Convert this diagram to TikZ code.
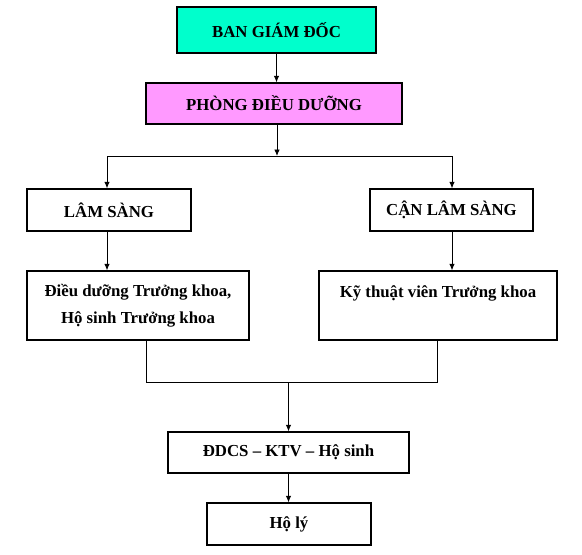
\documentclass[tikz,border=0pt]{standalone}
\usepackage{fontspec}
\setmainfont{Liberation Serif}
\usetikzlibrary{arrows.meta}
\definecolor{boardcyan}{HTML}{00FFCC}
\definecolor{nursepink}{HTML}{FF99FF}
\tikzset{
  orgbox/.style={draw=black, line width=1.2pt, align=center, inner sep=0pt,
    font=\fontsize{16.8}{27}\selectfont\bfseries},
  link/.style={draw=black, line width=0.9pt},
  linkarrow/.style={link, -{Latex[length=6.5pt,width=5.5pt]}}
}

\begin{document}
\begin{tikzpicture}[x=1pt, y=-1pt]
    \useasboundingbox (0,0) rectangle (582,555);
    \node[orgbox, fill=boardcyan, minimum width=199pt, minimum height=46pt] (bgd) at (276.5,30) {BAN GIÁM ĐỐC};
    \node[orgbox, fill=nursepink, minimum width=256pt, minimum height=41pt] (pdd) at (274,103.5) {PHÒNG ĐIỀU DƯỠNG};
    \node[orgbox, minimum width=164pt, minimum height=42pt] (ls) at (109,210) {LÂM SÀNG};
    \node[orgbox, minimum width=163pt, minimum height=42pt] (cls) at (451.5,210) {CẬN LÂM SÀNG};
    \node[orgbox, minimum width=222pt, minimum height=69pt] (ddtk) at (138,305.5) {Điều dưỡng Trưởng khoa,\\Hộ sinh Trưởng khoa};
    \node[orgbox, minimum width=238pt, minimum height=69pt] (kttk) at (438,305.5) {Kỹ thuật viên Trưởng khoa\\\mbox{}};
    \node[orgbox, minimum width=241pt, minimum height=41pt] (ddcs) at (288.5,452.5) {ĐDCS – KTV – Hộ sinh};
    \node[orgbox, minimum width=164pt, minimum height=42pt] (holy) at (289,524) {Hộ lý};

    \coordinate (split) at (277,156);
    \coordinate (splitL) at (107,156);
    \coordinate (splitR) at (452,156);
    \coordinate (mergeL) at (146,382);
    \coordinate (mergeR) at (437,382);

    \draw[linkarrow] (bgd.south) -- (bgd.south |- pdd.north);
    \draw[linkarrow] (pdd.south -| split) -- (split);
    \draw[link] (splitL) -- (splitR);
    \draw[linkarrow] (splitL) -- (splitL |- ls.north);
    \draw[linkarrow] (splitR) -- (splitR |- cls.north);
    \draw[linkarrow] (splitL |- ls.south) -- (splitL |- ddtk.north);
    \draw[linkarrow] (splitR |- cls.south) -- (splitR |- kttk.north);
    \draw[link] (ddtk.south -| mergeL) -- (mergeL) -- (mergeR) -- (kttk.south -| mergeR);
    \draw[linkarrow] (ddcs.north |- mergeL) -- (ddcs.north);
    \draw[linkarrow] (ddcs.south) -- (ddcs.south |- holy.north);
  \end{tikzpicture}
\end{document}
